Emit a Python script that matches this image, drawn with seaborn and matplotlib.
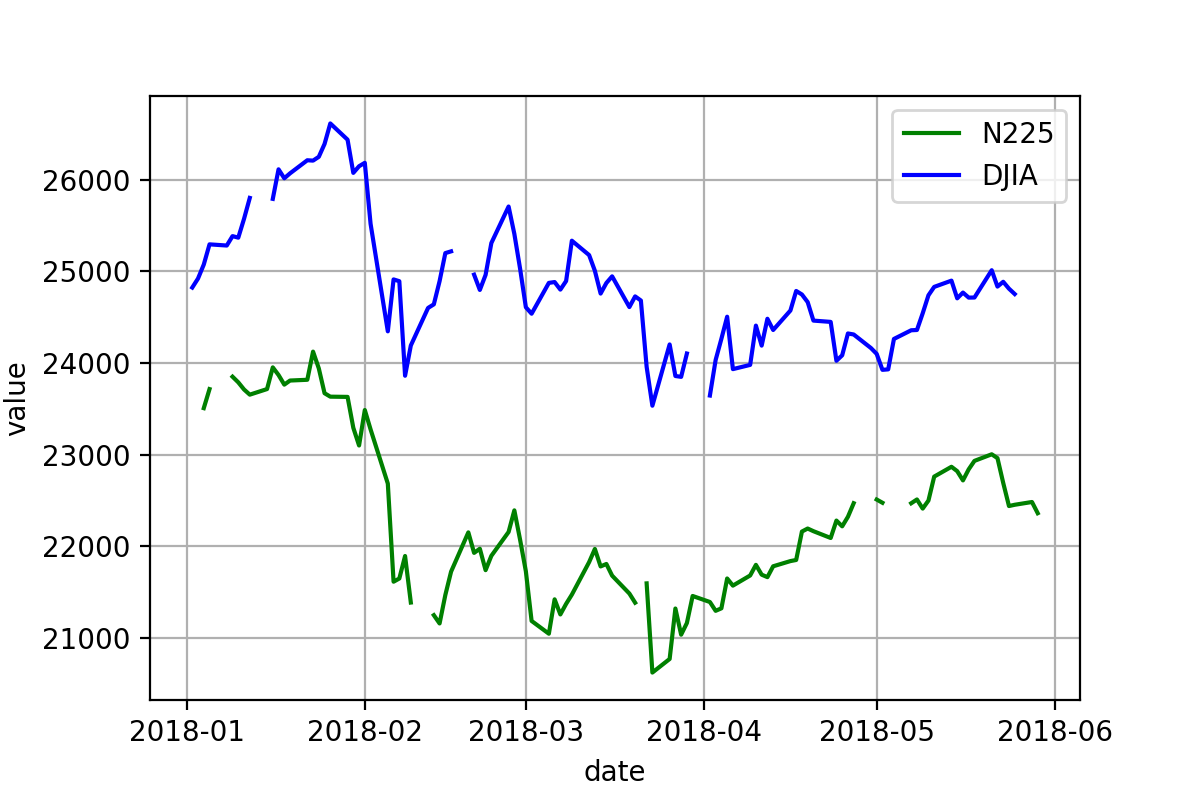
import numpy as np
import pandas as pd
import matplotlib
matplotlib.use("Agg")
import matplotlib.pyplot as plt
import seaborn as sns

nan = np.nan

# Union of trading days (all weekdays from 2018-01-02 to 2018-05-29)
dates = pd.bdate_range("2018-01-02", "2018-05-29")

n225 = [
    # Jan
    nan, nan, 23506.33, 23714.53, nan, 23849.99, 23788.20, 23710.43, 23653.82, 23714.88,
    23951.81, 23868.34, 23763.37, 23808.06, 23816.33, 24124.15, 23940.78, 23669.49,
    23631.88, 23629.34, 23291.97, 23098.29,
    # Feb
    23486.11, 23274.53, 22682.08, 21610.24, 21645.37, 21890.86, 21382.62, nan, 21244.68,
    21154.17, 21464.98, 21720.25, 22149.21, 21925.10, 21970.81, 21736.44, 21892.78,
    22153.63, 22389.86, 22068.24,
    # Mar
    21724.47, 21181.64, 21042.09, 21417.76, 21252.72, 21368.07, 21469.20, 21824.03,
    21968.10, 21777.29, 21803.95, 21676.51, 21480.90, 21380.97, nan, 21591.99, 20617.86,
    20766.10, 21317.32, 21031.31, 21159.08, 21454.30,
    # Apr
    21388.58, 21292.29, 21319.55, 21645.42, 21567.52, 21678.26, 21794.32, 21687.10,
    21660.28, 21778.74, 21835.53, 21847.59, 22158.20, 22191.18, 22162.24, 22088.04,
    22278.12, 22215.32, 22319.61, 22467.87, nan,
    # May
    22508.03, 22472.78, nan, nan, 22467.16, 22508.69, 22408.88, 22497.18, 22758.48,
    22865.86, 22818.02, 22717.23, 22838.37, 22930.36, 23002.37, 22960.34, 22689.74,
    22437.01, 22450.79, 22481.09, 22358.43,
]

djia = [
    # Jan
    24824.01, 24922.68, 25075.13, 25295.87, 25283.00, 25385.80, 25369.13, 25574.73,
    25803.19, nan, 25792.86, 26115.65, 26017.81, 26071.72, 26214.60, 26210.81, 26252.12,
    26392.79, 26616.71, 26439.48, 26076.89, 26149.39,
    # Feb
    26186.71, 25520.96, 24345.75, 24912.77, 24893.35, 23860.46, 24190.90, 24601.27,
    24640.45, 24893.49, 25200.37, 25219.38, nan, 24964.75, 24797.78, 24962.48, 25309.99,
    25709.27, 25410.03, 25029.20,
    # Mar
    24608.98, 24538.06, 24874.76, 24884.12, 24801.36, 24895.21, 25335.74, 25178.61,
    25007.03, 24758.12, 24873.66, 24946.51, 24610.91, 24727.27, 24682.31, 23957.89,
    23533.20, 24202.60, 23857.71, 23848.42, 24103.11, nan,
    # Apr
    23644.19, 24033.36, 24264.30, 24505.22, 23932.76, 23979.10, 24408.00, 24189.45,
    24483.05, 24360.14, 24573.04, 24786.63, 24748.07, 24664.89, 24462.94, 24448.69,
    24024.13, 24083.83, 24322.34, 24311.19, 24163.15,
    # May
    24099.05, 23924.98, 23930.15, 24262.51, 24357.32, 24360.21, 24542.54, 24739.53,
    24831.17, 24899.41, 24706.41, 24768.93, 24713.98, 24715.09, 25013.29, 24834.41,
    24886.81, 24811.76, 24753.09, nan, 24361.45,
]

series_names = ["N225", "DJIA"]
series_colors = ["green", "blue"]

df = pd.DataFrame({"date": dates, "N225": n225, "DJIA": djia})

fig, ax = plt.subplots(figsize=(6, 4), dpi=200)
fig.subplots_adjust(left=0.125, right=0.9, top=0.88, bottom=0.125)

for name, color in zip(series_names, series_colors):
    sub = df[["date", name]].copy()
    # break the line at missing values: one unit per contiguous run
    sub["seg"] = sub[name].isna().cumsum()
    sub = sub.dropna()
    sns.lineplot(data=sub, x="date", y=name, units="seg", estimator=None,
                 sort=False, color=color, label=name, ax=ax)

ax.set_xlabel("date")
ax.set_ylabel("value")
ax.grid(True)

handles, labels = ax.get_legend_handles_labels()
seen = {}
for h, l in zip(handles, labels):
    if l in series_names and l not in seen:
        seen[l] = h
ax.legend([seen[n] for n in series_names], series_names, loc="upper right")

fig.savefig("out.png", dpi=200)
